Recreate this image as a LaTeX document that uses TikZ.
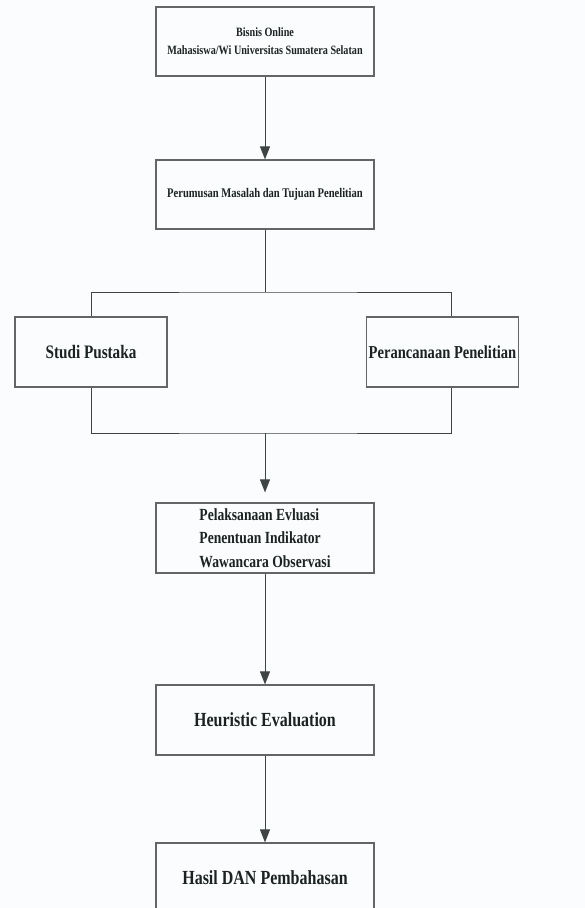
\documentclass[tikz,border=0pt]{standalone}
\usepackage{fontspec}
\setmainfont{Liberation Serif}[FakeStretch=0.8]
\usetikzlibrary{arrows.meta}
\definecolor{paper}{RGB}{250,252,253}
\definecolor{rim}{RGB}{100,102,102}
\definecolor{ink}{RGB}{28,34,34}
\tikzset{
  stepbox/.style={draw=rim, line width=1.2pt, fill=paper, text=ink,
    minimum width=218pt, minimum height=69pt, inner sep=2pt, align=center},
  flow/.style={draw=ink!85, line width=0.9pt},
  flow arrow/.style={flow, -{Triangle[width=10pt,length=13pt]}},
}

\begin{document}
\begin{tikzpicture}[x=1pt,y=-1pt]
    % Canvas
    \fill[paper] (0,0) rectangle (585,908);
    \useasboundingbox (0,0) rectangle (585,908);
    \begin{scope}
        \clip (0,0) rectangle (585,908);

        % Boxes
        \node[stepbox, font=\bfseries\fontsize{12.7}{18}\selectfont] (bisnis) at (265,41.5)
            {Bisnis Online\\Mahasiswa/Wi Universitas Sumatera Selatan};
        \node[stepbox, font=\bfseries\fontsize{13.2}{16}\selectfont] (rumusan) at (265,194.5)
            {Perumusan Masalah dan Tujuan Penelitian};
        \node[stepbox, minimum width=152pt, minimum height=70pt,
              font=\bfseries\fontsize{19}{22}\selectfont] (studi) at (91,352)
            {Studi Pustaka};
        \node[stepbox, minimum width=151pt, minimum height=70pt,
              font=\bfseries\fontsize{18.2}{22}\selectfont] (rancang) at (442.5,352)
            {Perancanaan Penelitian};
        \node[stepbox, minimum height=70pt, align=left,
              font=\bfseries\fontsize{17}{23.5}\selectfont] (evaluasi) at (265,538)
            {Pelaksanaan Evluasi\\Penentuan Indikator\\Wawancara Observasi};
        \node[stepbox, minimum height=70pt, font=\bfseries\fontsize{20}{24}\selectfont] (heuristic) at (265,720)
            {Heuristic Evaluation};
        \node[stepbox, minimum height=70pt, font=\bfseries\fontsize{20}{24}\selectfont] (hasil) at (265,878)
            {Hasil DAN Pembahasan};

        % Split and merge
        \coordinate (split) at (265,292);
        \coordinate (merge) at (265,433);
        \draw[flow] (rumusan.south) -- (split);
        \draw[flow] (studi.north) |- (split) -| ([xshift=8.5pt]rancang.north);
        \draw[flow] (studi.south) |- (merge) -| ([xshift=8.5pt]rancang.south);

        % Arrows
        \draw[flow arrow] (bisnis) -- (rumusan);
        \draw[flow arrow, shorten >=10pt] (merge) -- (evaluasi.north);
        \draw[flow arrow] (evaluasi) -- (heuristic);
        \draw[flow arrow] (heuristic) -- (hasil);
    \end{scope}
\end{tikzpicture}
\end{document}
